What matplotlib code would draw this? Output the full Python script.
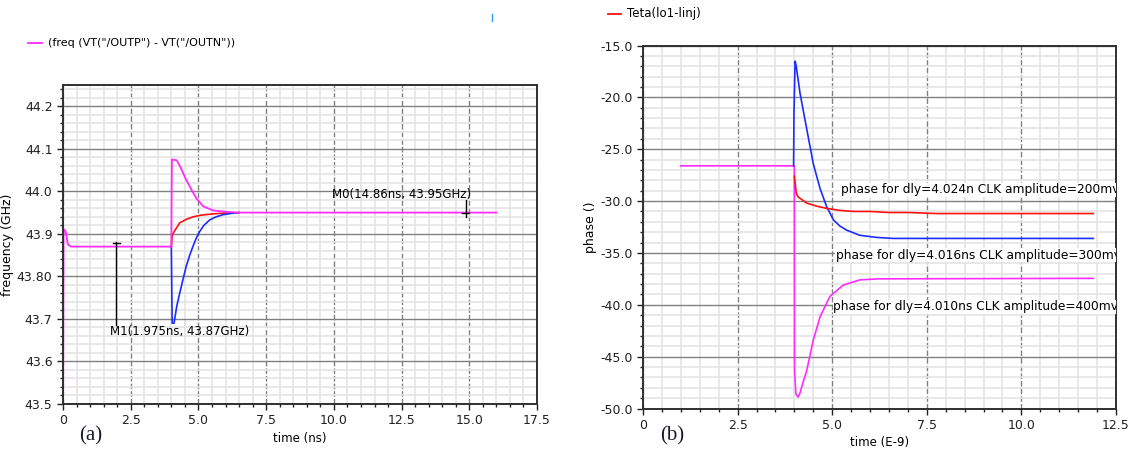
import matplotlib
matplotlib.use("Agg")
import matplotlib.pyplot as plt
from matplotlib.lines import Line2D
from matplotlib.ticker import MultipleLocator, FixedLocator, FixedFormatter

# ---- panel (a): frequency vs time ----
freq_mag_t = [0.0, 0.02, 0.05, 0.10, 0.18, 0.30, 4.0, 4.02, 4.2, 4.35, 4.55,
              4.75, 4.92, 5.17, 5.54, 6.0, 6.4, 16.0]
freq_mag_f = [43.40, 43.90, 43.91, 43.905, 43.875, 43.87, 43.87, 44.075, 44.073,
              44.055, 44.027, 44.003, 43.984, 43.965, 43.955, 43.952, 43.95, 43.95]
freq_red_t = [4.0, 4.03, 4.1, 4.31, 4.55, 4.8, 5.1, 5.54, 6.0, 6.5]
freq_red_f = [43.87, 43.895, 43.905, 43.926, 43.934, 43.94, 43.944, 43.947, 43.949, 43.95]
freq_blue_t = [4.0, 4.03, 4.1, 4.2, 4.31, 4.43, 4.55, 4.68, 4.8, 4.92, 5.05,
               5.2, 5.42, 5.65, 5.9, 6.2, 6.5]
freq_blue_f = [43.87, 43.69, 43.69, 43.73, 43.761, 43.793, 43.824, 43.85, 43.871,
               43.89, 43.906, 43.92, 43.933, 43.94, 43.945, 43.948, 43.95]
freq_yticks = [43.5, 43.6, 43.7, 43.8, 43.9, 44.0, 44.1, 44.2]
freq_ylabels = ["43.5", "43.6", "43.7", "43.80", "43.9", "44.0", "44.1", "44.2"]
freq_xticks = [0, 2.5, 5.0, 7.5, 10.0, 12.5, 15.0, 17.5]
freq_xlabels = ["0", "2.5", "5.0", "7.5", "10.0", "12.5", "15.0", "17.5"]
m1 = (1.975, 43.87)
m0 = (14.86, 43.95)

# ---- panel (b): phase vs time ----
ph_mag_t = [1.0, 4.0, 4.005, 4.04, 4.1, 4.15, 4.22, 4.33, 4.5, 4.68, 4.94,
            5.29, 5.73, 6.2, 11.9]
ph_mag_p = [-26.6, -26.6, -46.3, -48.6, -48.9, -48.5, -47.6, -46.3, -43.4,
            -41.15, -39.2, -38.1, -37.6, -37.5, -37.45]
ph_blue_t = [3.98, 3.99, 4.02, 4.05, 4.15, 4.33, 4.5, 4.68, 4.85, 5.03, 5.2,
             5.38, 5.73, 6.17, 6.6, 11.9]
ph_blue_p = [-26.6, -21.5, -16.5, -17.0, -19.6, -23.1, -26.4, -28.8, -30.5,
             -31.8, -32.4, -32.8, -33.3, -33.5, -33.6, -33.6]
ph_red_t = [4.0, 4.02, 4.05, 4.1, 4.33, 4.6, 4.85, 5.2, 5.56, 6.0, 6.5, 7.0, 7.76, 11.9]
ph_red_p = [-27.6, -28.2, -29.25, -29.6, -30.2, -30.5, -30.7, -30.9, -31.0,
            -31.0, -31.1, -31.1, -31.2, -31.2]
ph_yticks = [-15, -20, -25, -30, -35, -40, -45, -50]
ph_ylabels = ["-15.0", "-20.0", "-25.0", "-30.0", "-35.0", "-40.0", "-45.0", "-50.0"]
ph_xticks = [0, 2.5, 5.0, 7.5, 10.0, 12.5]
ph_xlabels = ["0", "2.5", "5.0", "7.5", "10.0", "12.5"]
ph_notes = [
    (5.22, -28.93, "phase for dly=4.024n CLK amplitude=200mv"),
    (5.10, -35.2, "phase for dly=4.016ns CLK amplitude=300mv"),
    (5.03, -40.19, "phase for dly=4.010ns CLK amplitude=400mv"),
]

MAG = "#ff2bff"
RED = "#ff1010"
BLUE = "#1a2cff"

fig = plt.figure(figsize=(11.33, 4.51), dpi=100)


def style_axes(ax, xminor, yminor):
    ax.xaxis.set_minor_locator(MultipleLocator(xminor))
    ax.yaxis.set_minor_locator(MultipleLocator(yminor))
    ax.grid(which="minor", color="#e4e4e4", linewidth=1.2)
    ax.grid(which="major", axis="y", color="#808080", linewidth=1.0)
    ax.grid(which="major", axis="x", color="#808080", linewidth=1.0, linestyle=(0, (4, 1.5)))
    ax.set_axisbelow(True)
    for s in ax.spines.values():
        s.set_color("#303030")
        s.set_linewidth(1.4)
    ax.tick_params(which="major", direction="out", length=4, width=1.0, labelsize=9,
                   colors="#202020")
    ax.tick_params(which="minor", direction="out", length=2.5, width=1.0, colors="#202020")


# panel (a)
ax1 = fig.add_axes([0.0556, 0.1043, 0.4184, 0.7072])
ax1.plot(freq_red_t, freq_red_f, color=RED, lw=1.2)
ax1.plot(freq_blue_t, freq_blue_f, color=BLUE, lw=1.2)
ax1.plot(freq_mag_t, freq_mag_f, color=MAG, lw=1.3)
ax1.set_xlim(0, 17.5)
ax1.set_ylim(43.5, 44.25)
ax1.xaxis.set_major_locator(FixedLocator(freq_xticks))
ax1.xaxis.set_major_formatter(FixedFormatter(freq_xlabels))
ax1.yaxis.set_major_locator(FixedLocator(freq_yticks))
ax1.yaxis.set_major_formatter(FixedFormatter(freq_ylabels))
style_axes(ax1, 0.5, 0.02)
ax1.set_xlabel("time (ns)", fontsize=8.5, labelpad=3)
ax1.set_ylabel("frequency (GHz)", fontsize=9, labelpad=2)

# markers
ax1.plot([m1[0], m1[0]], [43.685, m1[1] + 0.01], color="black", lw=1.0)
ax1.plot([m1[0] - 0.12, m1[0] + 0.12], [m1[1] + 0.008, m1[1] + 0.008], color="black", lw=1.0)
ax1.text(1.73, 43.671, "M1(%.3fns, %.2fGHz)" % m1, fontsize=8.5, ha="left", va="center")
ax1.plot([m0[0], m0[0]], [m0[1] - 0.01, m0[1] + 0.03], color="black", lw=1.0)
ax1.plot([m0[0] - 0.12, m0[0] + 0.12], [m0[1], m0[1]], color="black", lw=1.0)
ax1.text(12.5, 43.992, "M0(%.2fns, %.2fGHz)" % m0, fontsize=8.5, ha="center", va="center")

# panel (b)
ax2 = fig.add_axes([0.5675, 0.0942, 0.4175, 0.8049])
ax2.plot(ph_mag_t, ph_mag_p, color=MAG, lw=1.2)
ax2.plot(ph_blue_t, ph_blue_p, color=BLUE, lw=1.2)
ax2.plot(ph_red_t, ph_red_p, color=RED, lw=1.2)
ax2.set_xlim(0, 12.5)
ax2.set_ylim(-50, -15)
ax2.xaxis.set_major_locator(FixedLocator(ph_xticks))
ax2.xaxis.set_major_formatter(FixedFormatter(ph_xlabels))
ax2.yaxis.set_major_locator(FixedLocator(ph_yticks))
ax2.yaxis.set_major_formatter(FixedFormatter(ph_ylabels))
style_axes(ax2, 0.5, 1)
ax2.set_xlabel("time (E-9)", fontsize=8.5, labelpad=3)
ax2.set_ylabel("phase ()", fontsize=9, labelpad=2)
for x, y, s in ph_notes:
    ax2.text(x, y, s, fontsize=8.8, ha="left", va="center", clip_on=True,
             bbox=dict(facecolor="white", edgecolor="none", pad=0.5))

# legends / labels drawn on the figure
fig.add_artist(Line2D([28 / 1133, 42 / 1133], [1 - 43 / 451] * 2, color=MAG, lw=1.3))
fig.text(48 / 1133, 1 - 43 / 451, "(freq (VT(\"/OUTP\") - VT(\"/OUTN\"))", fontsize=8,
         va="center", ha="left")
fig.add_artist(Line2D([608 / 1133, 621 / 1133], [1 - 14 / 451] * 2, color=RED, lw=1.3))
fig.text(627 / 1133, 1 - 14 / 451, "Teta(lo1-linj)", fontsize=8.5, va="center", ha="left")
fig.add_artist(Line2D([492 / 1133] * 2, [1 - 14 / 451, 1 - 21 / 451], color="#3399ff", lw=1.0))

fig.text(91 / 1133, 1 - 436 / 451, "(a)", fontsize=15, family="Liberation Serif",
         color="#1a1a2e", ha="center", va="center")
fig.text(672 / 1133, 1 - 436 / 451, "(b)", fontsize=15, family="Liberation Serif",
         color="#1a1a2e", ha="center", va="center")

fig.savefig("out.png", dpi=100)
